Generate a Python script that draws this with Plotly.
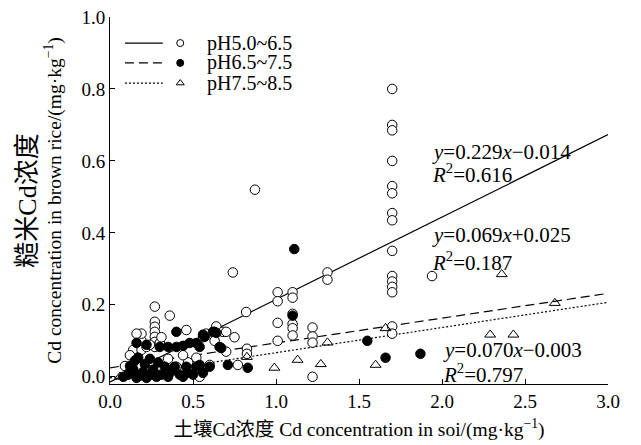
import plotly.graph_objects as go

# ---------------- data ----------------
# pH5.0~6.5 (open circles)
a_x = [0.27, 0.36, 0.74, 0.27, 0.27, 0.27, 0.27, 0.27, 0.27, 0.18, 0.46, 0.64, 0.68, 0.75, 0.70,
       0.82, 1.01, 1.01, 1.10, 1.10, 1.01, 1.01, 1.10, 1.10, 1.10, 1.10, 0.825, 0.825, 0.30, 0.14,
       0.19, 0.22, 0.52, 0.60, 0.54, 0.54, 0.77, 0.19, 0.24, 0.40, 0.47, 0.19, 0.24, 0.19, 0.12,
       0.873, 1.31, 1.31, 1.22, 1.22, 1.22, 1.22,
       1.70, 1.70, 1.70, 1.70, 1.70, 1.70, 1.70, 1.70, 1.70, 1.70, 1.70, 1.70, 1.70, 1.70, 1.70,
       1.94, 0.63, 0.56, 0.70, 0.35, 0.58, 0.09, 0.31, 0.16, 0.44]
a_y = [0.195, 0.17, 0.29, 0.153, 0.139, 0.125, 0.111, 0.097, 0.083, 0.10, 0.13, 0.14, 0.125, 0.11, 0.125,
       0.18, 0.235, 0.21, 0.235, 0.22, 0.15, 0.10, 0.175, 0.147, 0.135, 0.115, 0.078, 0.064, 0.094, 0.075,
       0.075, 0.083, 0.053, 0.033, 0.02, 0.0, 0.033, 0.028, 0.04, 0.028, 0.04, 0.10, 0.089, 0.12, 0.06,
       0.52, 0.29, 0.27, 0.137, 0.112, 0.095, 0.0,
       0.80, 0.70, 0.685, 0.60, 0.53, 0.51, 0.455, 0.435, 0.35, 0.28, 0.265, 0.25, 0.235, 0.14, 0.12,
       0.28, 0.10, 0.11, 0.07, 0.05, 0.12, 0.03, 0.11, 0.12, 0.06]

# pH6.5~7.5 (filled circles)
b_x = [1.11, 1.10, 0.40, 0.16, 0.22, 0.30, 0.35, 0.40, 0.44, 0.48, 0.52, 0.54, 0.57, 0.62, 0.64, 0.66,
       0.17, 0.71, 0.83, 0.60, 0.08, 0.11, 0.14, 0.16, 0.18, 0.20, 0.22, 0.25, 0.28, 0.31, 0.33, 0.35,
       0.39, 0.42, 0.44, 0.46, 0.47, 0.50, 0.52, 0.54, 0.56, 1.55, 1.66, 1.87, 0.67, 0.56, 0.63,
       0.12, 0.15, 0.21, 0.26, 0.13, 0.24, 0.29, 0.37]
b_y = [0.355, 0.17, 0.125, 0.094, 0.089, 0.083, 0.083, 0.083, 0.086, 0.094, 0.094, 0.083, 0.111, 0.125, 0.122, 0.083,
       0.053, 0.033, 0.025, 0.028, 0.0, 0.006, 0.02, -0.003, 0.003, 0.014, -0.003, 0.006, 0.0, 0.006, 0.028, 0.0,
       0.028, 0.006, 0.0, 0.028, 0.011, 0.006, 0.028, 0.033, 0.011, 0.10, 0.053, 0.064, 0.08, 0.117, 0.125,
       0.03, 0.045, 0.035, 0.02, 0.015, 0.05, 0.04, 0.015]

# pH7.5~8.5 (open triangles)
c_x = [0.06, 0.10, 0.825, 0.99, 1.13, 1.27, 1.31, 1.60, 1.66, 2.29, 2.36, 2.43, 2.68]
c_y = [0.0, 0.01, 0.055, 0.025, 0.047, 0.035, 0.095, 0.033, 0.135, 0.117, 0.285, 0.117, 0.205]

# fitted regressions
fit_slope = [0.229, 0.069, 0.070]
fit_icept = [-0.014, 0.025, -0.003]
fit_r2 = ["0.616", "0.187", "0.797"]
fit_eq = ["<i>y</i>=0.229<i>x</i>\u22120.014", "<i>y</i>=0.069<i>x</i>+0.025", "<i>y</i>=0.070<i>x</i>\u22120.003"]
legend_names = ["pH5.0~6.5", "pH6.5~7.5", "pH7.5~8.5"]

x_ticks = [0.0, 0.5, 1.0, 1.5, 2.0, 2.5, 3.0]
y_ticks = [0.0, 0.2, 0.4, 0.6, 0.8, 1.0]

FONT = "'Liberation Serif', 'Times New Roman', 'Noto Sans CJK SC', serif"
line_styles = ["solid", "9px,5px", "2px,2px"]
marker_styles = [
    dict(symbol="circle", color="white", size=9.5, line=dict(color="black", width=1)),
    dict(symbol="circle", color="black", size=9.5, line=dict(color="black", width=1)),
    dict(symbol="triangle-up-open", color="black", size=9.5, line=dict(color="black", width=1)),
]

fig = go.Figure()

# regression lines
fx = [0.0, 3.0]
for s, b, dash in zip(fit_slope, fit_icept, line_styles):
    fig.add_trace(go.Scatter(x=fx, y=[s * v + b for v in fx], mode="lines",
                             line=dict(color="black", width=1.2, dash=dash),
                             showlegend=False, hoverinfo="skip"))

# scatter points
for xs, ys, ms in [(a_x, a_y, marker_styles[0]), (b_x, b_y, marker_styles[1]), (c_x, c_y, marker_styles[2])]:
    fig.add_trace(go.Scatter(x=xs, y=ys, mode="markers", marker=ms, showlegend=False))

# custom legend (overlay axes in paper units)
leg_rows = [0.929, 0.875, 0.820]
for i, (yy, dash) in enumerate(zip(leg_rows, line_styles)):
    fig.add_trace(go.Scatter(x=[0.030, 0.106], y=[yy, yy], mode="lines",
                             line=dict(color="black", width=1.2, dash=dash),
                             xaxis="x2", yaxis="y2", showlegend=False, hoverinfo="skip"))
    ms = dict(marker_styles[i])
    ms["size"] = 7
    fig.add_trace(go.Scatter(x=[0.141], y=[yy], mode="markers", marker=ms,
                             xaxis="x2", yaxis="y2", showlegend=False, hoverinfo="skip"))
    fig.add_annotation(x=0.190, y=yy, xref="x2", yref="y2", text=legend_names[i],
                       showarrow=False, xanchor="left", yanchor="middle",
                       font=dict(family=FONT, size=20, color="black"))

# equation annotations
eq_pos = [(1.93, 0.625, 0.565), (1.93, 0.394, 0.32), (1.995, 0.075, 0.008)]
for (ex, ey, ry), eq, r2 in zip(eq_pos, fit_eq, fit_r2):
    fig.add_annotation(x=ex, y=ey, text=eq, showarrow=False, xanchor="left", yanchor="middle",
                       font=dict(family=FONT, size=21, color="black"))
    fig.add_annotation(x=ex, y=ry, text="<i>R</i><sup>2</sup>=" + r2, showarrow=False,
                       xanchor="left", yanchor="middle",
                       font=dict(family=FONT, size=21, color="black"))

fig.update_layout(
    width=641, height=445,
    margin=dict(l=110, r=33, t=17, b=61),
    paper_bgcolor="white", plot_bgcolor="white",
    font=dict(family=FONT, size=19, color="black"),
    xaxis=dict(range=[0, 3.0], tickvals=x_ticks, tickformat=".1f", ticks="inside", ticklen=5,
               tickcolor="black", showline=True, linecolor="black", linewidth=1,
               showgrid=False, zeroline=False, tickfont=dict(family=FONT, size=19),
               automargin=False,
               title=dict(text="土壤Cd浓度 Cd concentration in soi/(mg·kg<sup>\u22121</sup>)",
                          font=dict(family=FONT, size=19.5), standoff=11)),
    yaxis=dict(range=[-0.02, 1.0], tickvals=y_ticks, tickformat=".1f", ticks="inside", ticklen=5,
               tickcolor="black", showline=True, linecolor="black", linewidth=1,
               showgrid=False, zeroline=False, tickfont=dict(family=FONT, size=19),
               automargin=False,
               title=dict(text="<span style='font-size:26px'>糙米Cd浓度</span><br>"
                               "Cd concentration in brown rice/(mg·kg<sup>\u22121</sup>)",
                          font=dict(family=FONT, size=19.5), standoff=14)),
    xaxis2=dict(range=[0, 1], overlaying="x", visible=False, fixedrange=True),
    yaxis2=dict(range=[0, 1], overlaying="y", visible=False, fixedrange=True),
    showlegend=False,
)

fig.write_html("out.html", config={"displayModeBar": False},
               post_script="document.body.style.margin='0';")
